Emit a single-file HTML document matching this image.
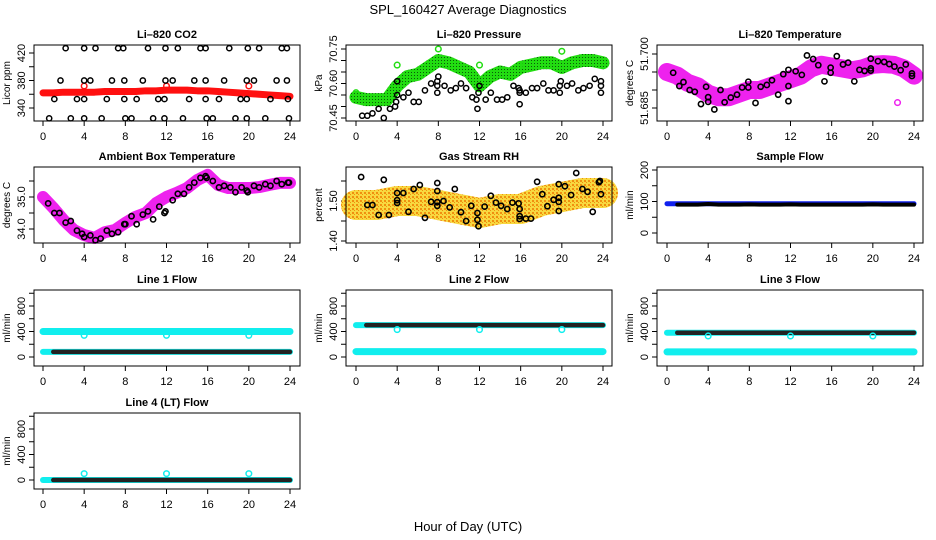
<!DOCTYPE html>
<html><head><meta charset="utf-8">
<style>
html,body{margin:0;padding:0;background:#fff;}
svg{display:block;font-family:"Liberation Sans",sans-serif;}
</style></head>
<body>
<svg id="chart" width="936" height="540" viewBox="0 0 936 540">
<defs>
<pattern id="rhpat" width="4" height="4" patternUnits="userSpaceOnUse"><rect width="4" height="4" fill="#f8d840"/><rect width="2" height="2" fill="#f0900f"/><rect x="2" y="2" width="1" height="1" fill="#f0900f"/></pattern>
<pattern id="grpat" width="3" height="3" patternUnits="userSpaceOnUse"><rect width="3" height="3" fill="#22dd11"/><rect width="1" height="1" fill="#0a5a0a"/></pattern>
</defs>
<text x="468" y="14" text-anchor="middle" font-size="13">SPL_160427  Average Diagnostics</text>
<text x="468" y="531" text-anchor="middle" font-size="13">Hour of Day (UTC)</text>
</svg>
<script>
// ---------- data ----------
const hoursHourly = [0,1,2,3,4,5,6,7,8,9,10,11,12,13,14,15,16,17,18,19,20,21,22,23,24];
const xTicks = [0,4,8,12,16,20,24];
const xTickLabels = ['0','4','8','12','16','20','24'];

const co2Band = [362,362,363,363,363,363,364,364,364,364,365,365,366,366,366,365,365,364,363,362,361,360,359,358,357];
const co2OutT = [4,12,20];
const co2OutV = [372,372,372];
const co2T = [2.2,4.0,5.1,7.3,7.8,10.2,11.9,13.1,15.3,15.8,18.1,19.9,21.0,23.2,23.7,
 1.7,4.0,4.6,6.7,7.9,9.7,11.9,12.6,14.7,15.8,17.6,19.8,20.5,22.7,23.7,
 1.1,3.3,4.0,6.2,7.9,9.1,11.2,11.8,14.2,15.8,17.1,19.2,19.8,22.1,23.8,
 0.6,2.7,4.0,5.7,8.0,8.6,10.7,11.8,13.6,15.9,16.5,18.7,19.8,21.6,23.9];
const co2V = [427,427,427,427,427,427,427,427,427,427,427,427,427,427,427,
 380,380,380,380,380,380,380,380,380,380,380,380,380,380,380,
 353,353,353,353,353,353,353,353,353,353,353,353,353,353,353,
 325,325,325,325,325,325,325,325,325,325,325,325,325,325,325];

const presBand = [70.54,70.53,70.53,70.53,70.59,70.63,70.64,70.67,70.70,70.69,70.67,70.65,70.59,70.63,70.65,70.64,70.67,70.68,70.69,70.69,70.67,70.69,70.70,70.70,70.69];
const presOutT = [0,4,8,12,16,20];
const presOutV = [70.56,70.68,70.75,70.68,70.68,70.74];
const presT = [0.6,1.1,1.6,2.2,2.7,3.3,3.8,3.9,4.0,4.0,4.6,5.1,5.6,6.1,6.7,7.3,7.9,7.9,7.9,8.0,8.6,9.2,9.7,10.2,10.7,11.3,11.7,11.8,11.9,12.0,12.6,13.1,13.7,14.2,14.7,15.3,15.8,15.9,15.9,15.9,16.5,17.1,17.6,18.2,18.7,19.2,19.8,19.8,19.9,20.5,21.0,21.6,22.1,22.7,23.2,23.8,23.8,23.8];
const presV = [70.46,70.46,70.47,70.49,70.45,70.49,70.50,70.52,70.55,70.61,70.54,70.56,70.52,70.52,70.57,70.60,70.56,70.59,70.61,70.63,70.59,70.57,70.58,70.60,70.58,70.54,70.53,70.49,70.56,70.59,70.53,70.56,70.53,70.53,70.54,70.59,70.58,70.56,70.57,70.51,70.56,70.58,70.58,70.60,70.57,70.57,70.56,70.59,70.61,70.59,70.60,70.57,70.58,70.59,70.62,70.59,70.61,70.56];

const ltBand = [51.695,51.694,51.692,51.691,51.689,51.688,51.688,51.689,51.690,51.690,51.691,51.692,51.693,51.694,51.696,51.697,51.6965,51.696,51.6955,51.696,51.697,51.6972,51.697,51.696,51.694];
const ltOutT = [22.4];
const ltOutV = [51.6865];
const ltT = [0.6,1.2,1.6,2.2,2.7,3.3,3.8,4.0,4.0,4.6,5.2,5.6,6.2,6.8,7.3,7.9,7.9,8.6,9.1,9.7,10.2,10.8,11.3,11.8,11.8,11.8,12.5,13.1,13.6,14.2,14.7,15.3,15.9,15.9,16.5,17.1,17.6,18.2,18.7,19.2,19.8,19.8,19.8,20.5,21.1,21.6,22.1,22.7,23.2,23.8,23.8];
const ltV = [51.6948,51.6911,51.6922,51.690,51.6895,51.6861,51.6909,51.688,51.6867,51.6846,51.690,51.6866,51.6879,51.6887,51.6907,51.6923,51.6907,51.6864,51.6909,51.6914,51.6927,51.6887,51.6944,51.6911,51.6869,51.6956,51.6952,51.6942,51.6996,51.6986,51.6969,51.6924,51.6962,51.6948,51.6994,51.6971,51.6976,51.6924,51.6956,51.6953,51.6987,51.6954,51.696,51.698,51.6978,51.6972,51.6965,51.6955,51.6971,51.6946,51.6939];

const ambBand = [35.0,34.66,34.28,33.97,33.81,33.72,33.9,33.97,34.19,34.38,34.5,34.81,35.0,35.13,35.28,35.53,35.69,35.38,35.28,35.28,35.28,35.31,35.38,35.44,35.44];
const ambT = [0.5,1.1,1.6,2.2,2.7,3.3,3.8,4.0,4.6,5.1,5.6,6.2,6.7,7.3,7.9,8.0,8.6,9.1,9.7,10.2,10.7,11.3,11.8,11.9,12.6,13.1,13.7,14.2,14.7,15.3,15.8,15.9,16.5,17.1,17.6,18.2,18.7,19.3,19.8,19.9,20.5,21.0,21.6,22.1,22.7,23.2,23.8,23.9];
const ambV = [34.8,34.5,34.5,34.2,34.25,33.95,33.85,33.75,33.8,33.65,33.7,33.95,33.85,33.9,34.15,34.15,34.4,34.15,34.45,34.55,34.3,34.7,34.5,34.55,34.9,35.1,35.1,35.3,35.45,35.6,35.65,35.6,35.5,35.3,35.35,35.3,35.15,35.3,35.2,35.15,35.35,35.3,35.4,35.35,35.5,35.4,35.45,35.45];

const rhBand = [1.49,1.49,1.49,1.495,1.50,1.50,1.50,1.495,1.49,1.485,1.48,1.475,1.47,1.475,1.48,1.48,1.48,1.49,1.50,1.505,1.51,1.515,1.52,1.52,1.52];
const rhT = [0.5,1.1,1.6,2.2,2.7,3.2,4.0,4.0,4.0,4.6,5.1,5.6,6.2,6.7,7.3,7.9,7.9,7.9,7.9,8.5,9.1,9.6,10.2,10.7,11.2,11.8,11.8,11.9,12.5,13.1,13.6,14.1,14.7,15.2,15.8,15.9,15.9,15.9,16.5,17.0,17.6,18.1,18.6,19.2,19.7,19.7,19.7,19.7,20.3,20.9,21.4,22.0,22.5,23.0,23.6,23.7,23.8];
const rhV = [1.56,1.49,1.49,1.465,1.553,1.465,1.52,1.502,1.495,1.52,1.473,1.53,1.54,1.458,1.498,1.545,1.525,1.497,1.488,1.50,1.484,1.53,1.472,1.45,1.488,1.47,1.453,1.437,1.486,1.513,1.496,1.488,1.48,1.496,1.494,1.48,1.462,1.455,1.456,1.456,1.548,1.517,1.487,1.503,1.542,1.508,1.498,1.475,1.537,1.515,1.57,1.53,1.523,1.473,1.547,1.55,1.517];

const sampleBlue = [93,93,93,93,93,93,93,93,93,93,93,93,93,93,93,93,93,93,93,93,93,93,93,93,93];
const sampleBlack = [90,90,90,90,92,90,90,90,91,90,90,90,91,90,90,90,90,90,90,90,91,90,90,90,90];

const l1Cyan = [400,400,400,400,400,400,400,400,400,400,400,400,400,400,400,400,400,400,400,400,400,400,400,400,400];
const l1Black = [80,80,80,80,80,80,80,80,80,80,80,80,80,80,80,80,80,80,80,80,80,80,80,80,80];
const l1OutV = [340,340,340];
const l2Cyan = [85,85,85,85,85,85,85,85,85,85,85,85,85,85,85,85,85,85,85,85,85,85,85,85,85];
const l2Black = [500,500,500,500,500,500,500,500,500,500,500,500,500,500,500,500,500,500,500,500,500,500,500,500,500];
const l2OutV = [430,430,430];
const l3Cyan = [80,80,80,80,80,80,80,80,80,80,80,80,80,80,80,80,80,80,80,80,80,80,80,80,80];
const l3Black = [380,380,380,380,380,380,380,380,380,380,380,380,380,380,380,380,380,380,380,380,380,380,380,380,380];
const l3OutV = [330,330,330];
const l4Black = [0,0,0,0,0,0,0,0,0,0,0,0,0,0,0,0,0,0,0,0,0,0,0,0,0];
const l4OutV = [100,100,100];
const flowOutT = [4,12,20];

// ---------- drawing ----------
const NS = 'http://www.w3.org/2000/svg';
const svg = document.getElementById('chart');
const cols = [{l:34,r:300,x0:43,x24:290},{l:346,r:612,x0:356,x24:603},{l:657,r:923,x0:667,x24:914}];
const rowTop = [45,167,290,413];
const BOXH = 76;

function mk(parent, tag, attrs, name, text){
  const e = document.createElementNS(NS, tag);
  for (const k in attrs) e.setAttribute(k, attrs[k]);
  
  
  if (text !== undefined) e.textContent = text;
  parent.appendChild(e);
  return e;
}

function panel(id, ci, ri, title, ylab, v1, d1, v2, d2, ticks, labels){
  const c = cols[ci], top = rowTop[ri], bot = top + BOXH;
  const g = mk(svg, 'g', {}, id + '-panel');
  const xs = h => c.x0 + (c.x24 - c.x0) * h / 24;
  const ys = v => top + d1 + (v - v1) * (d2 - d1) / (v2 - v1);
  mk(g, 'text', {x:(c.l+c.r)/2, y:top-7, 'text-anchor':'middle', 'font-size':11, 'font-weight':'bold'}, id + '-title', title);
  xTicks.forEach((t,i) => {
    mk(g, 'line', {x1:xs(t), x2:xs(t), y1:bot, y2:bot+5, stroke:'#000'}, id + '-x-tick');
    mk(g, 'text', {x:xs(t), y:bot+19, 'text-anchor':'middle', 'font-size':11}, id + '-x-tick-label', xTickLabels[i]);
  });
  const ya = ys(ticks[0]), yb = ys(ticks[ticks.length-1]);
  mk(g, 'line', {x1:c.l, x2:c.l, y1:Math.max(ya,yb), y2:Math.min(ya,yb), stroke:'#000'}, id + '-y-axis');
  ticks.forEach((t,i) => {
    mk(g, 'line', {x1:c.l-5, x2:c.l, y1:ys(t), y2:ys(t), stroke:'#000'}, id + '-y-tick');
    if (labels[i]) mk(g, 'text', {x:c.l-9, y:ys(t), 'text-anchor':'middle', 'font-size':11, transform:`rotate(-90 ${c.l-9} ${ys(t)})`}, id + '-y-tick-label', labels[i]);
  });
  const lx = c.l - 24, ly = (top+bot)/2;
  mk(g, 'text', {x:lx, y:ly, 'text-anchor':'middle', 'font-size':10, transform:`rotate(-90 ${lx} ${ly})`}, id + '-y-axis-title', ylab);
  const clip = mk(g, 'g', {}, id + '-plot-area');
  mk(g, 'rect', {x:c.l, y:top, width:c.r-c.l, height:BOXH, fill:'none', stroke:'#000', 'stroke-width':1}, id + '-frame');
  return {g:clip, xs, ys, id};
}

function band(p, ts, vs, color, w, name){
  const pts = ts.map((t,i) => p.xs(t) + ',' + p.ys(vs[i])).join(' ');
  mk(p.g, 'polyline', {points:pts, fill:'none', stroke:color, 'stroke-width':w, 'stroke-linejoin':'round', 'stroke-linecap':'round'}, name);
}
function pts(p, ts, vs, color, r, sw, name){
  ts.forEach((t,i) => {
    mk(p.g, 'circle', {cx:p.xs(t), cy:p.ys(vs[i]), r:r, fill:'none', stroke:color, 'stroke-width':sw}, name);
  });
}

let p = panel('co2',0,0,'Li\u2013820 CO2','Licor ppm',420,8,340,63,[340,360,380,400,420],['340','','380','','420']);
band(p, hoursHourly, co2Band, '#ff1010', 7, 'co2-band');
pts(p, co2OutT, co2OutV, '#ff1010', 2.8, 1.5, 'co2-outlier');
pts(p, co2T, co2V, '#000', 2.6, 1.5, 'co2-point');

p = panel('pressure',1,0,'Li\u2013820 Pressure','kPa',70.75,4,70.45,73,[70.45,70.50,70.55,70.60,70.65,70.70,70.75],['70.45','','','70.60','','','70.75']);
band(p, hoursHourly, presBand, 'url(#grpat)', 13, 'pressure-band');
pts(p, presOutT, presOutV, '#22dd11', 2.8, 1.5, 'pressure-outlier');
pts(p, presT, presV, '#000', 2.6, 1.5, 'pressure-point');

p = panel('li-temp',2,0,'Li\u2013820 Temperature','degrees C',51.700,9,51.685,63,[51.685,51.690,51.695,51.700],['51.685','','','51.700']);
band(p, hoursHourly, ltBand, '#ee22ee', 18, 'li-temp-band');
pts(p, ltOutT, ltOutV, '#ee22ee', 2.8, 1.5, 'li-temp-outlier');
pts(p, ltT, ltV, '#000', 2.6, 1.6, 'li-temp-point');

p = panel('ambient',0,1,'Ambient Box Temperature','degrees C',35.0,30,34.0,62,[34.0,34.5,35.0,35.5],['34.0','','35.0','']);
band(p, hoursHourly, ambBand, '#ee22ee', 12, 'ambient-band');
pts(p, ambT, ambV, '#000', 2.6, 1.6, 'ambient-point');

p = panel('rh',1,1,'Gas Stream RH','percent',1.50,34,1.40,74,[1.40,1.45,1.50,1.55],['1.40','','1.50','']);
band(p, hoursHourly, rhBand, 'url(#rhpat)', 30, 'rh-band');
pts(p, rhT, rhV, '#000', 2.6, 1.6, 'rh-point');

p = panel('sample-flow',2,1,'Sample Flow','ml/min',200,3,0,66,[0,50,100,150,200],['0','','100','','200']);
band(p, hoursHourly, sampleBlue, '#1020ee', 5, 'sample-flow-band');
band(p, hoursHourly.slice(1), sampleBlack.slice(1), '#000', 4, 'sample-flow-black-band');

const flowTicks = [0,200,400,600,800,1000];
const flowLabels = ['0','','400','','800',''];
p = panel('line1',0,2,'Line 1 Flow','ml/min',800,16,0,67,flowTicks,flowLabels);
band(p, hoursHourly, l1Cyan, '#11eeee', 7, 'line1-cyan-band');
band(p, hoursHourly, l1Black, '#11eeee', 6, 'line1-cyan-low-band');
band(p, hoursHourly.slice(1), l1Black.slice(1), '#222', 4.5, 'line1-black-band');
pts(p, flowOutT, l1OutV, '#11eeee', 2.8, 1.5, 'line1-outlier');

p = panel('line2',1,2,'Line 2 Flow','ml/min',800,16,0,67,flowTicks,flowLabels);
band(p, hoursHourly, l2Cyan, '#11eeee', 7, 'line2-cyan-band');
band(p, hoursHourly, l2Black, '#11eeee', 6, 'line2-cyan-high-band');
band(p, hoursHourly.slice(1), l2Black.slice(1), '#222', 4.5, 'line2-black-band');
pts(p, flowOutT, l2OutV, '#11eeee', 2.8, 1.5, 'line2-outlier');

p = panel('line3',2,2,'Line 3 Flow','ml/min',800,16,0,67,flowTicks,flowLabels);
band(p, hoursHourly, l3Cyan, '#11eeee', 7, 'line3-cyan-band');
band(p, hoursHourly, l3Black, '#11eeee', 6, 'line3-cyan-high-band');
band(p, hoursHourly.slice(1), l3Black.slice(1), '#222', 4.5, 'line3-black-band');
pts(p, flowOutT, l3OutV, '#11eeee', 2.8, 1.5, 'line3-outlier');

p = panel('line4',0,3,'Line 4 (LT) Flow','ml/min',800,16,0,67,flowTicks,flowLabels);
band(p, hoursHourly, l4Black, '#11eeee', 6, 'line4-cyan-band');
band(p, hoursHourly.slice(1), l4Black.slice(1), '#222', 4.5, 'line4-black-band');
pts(p, flowOutT, l4OutV, '#11eeee', 2.8, 1.5, 'line4-outlier');
</script>
</body></html>
